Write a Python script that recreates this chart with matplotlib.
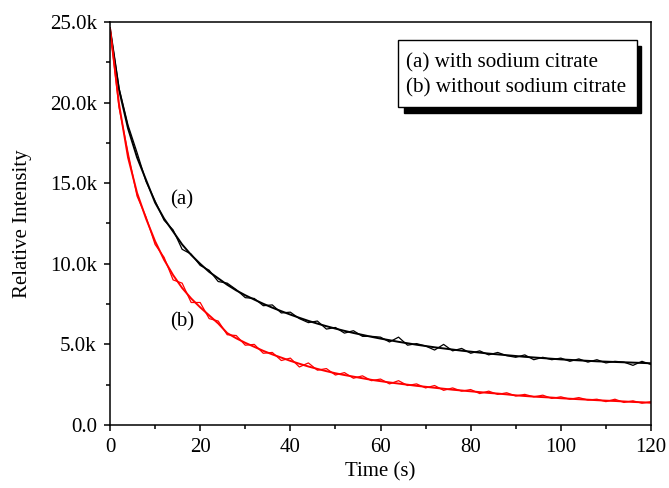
import matplotlib
matplotlib.use("Agg")
import matplotlib.pyplot as plt
import matplotlib.patches as patches
from matplotlib.ticker import FuncFormatter, MultipleLocator
import numpy as np

# time axis (s), sampled every 2 s
time_s = np.arange(0, 121, 2)

# measured intensity, with sodium citrate (k counts)
raw_a = [24.6, 20.9, 18.6, 16.9, 15.1, 13.9, 12.7, 12.1, 10.9, 10.6,
         9.9, 9.6, 8.9, 8.8, 8.4, 7.9, 7.85, 7.4, 7.45, 6.95,
         7.0, 6.6, 6.35, 6.45, 5.95, 6.05, 5.7, 5.85, 5.5, 5.5,
         5.45, 5.15, 5.45, 4.95, 5.05, 4.9, 4.65, 5.0, 4.6, 4.75,
         4.45, 4.6, 4.35, 4.5, 4.3, 4.2, 4.35, 4.05, 4.2, 4.05,
         4.15, 3.95, 4.1, 3.9, 4.05, 3.85, 3.95, 3.9, 3.7, 3.95,
         3.75]
# fitted decay, with sodium citrate
fit_a = [24.6, 20.8, 18.4, 16.6, 15.2, 13.8, 12.8, 12.0, 11.2, 10.55,
         10.0, 9.5, 9.1, 8.7, 8.35, 8.05, 7.78, 7.52, 7.28, 7.06,
         6.85, 6.65, 6.46, 6.29, 6.13, 5.98, 5.84, 5.71, 5.59, 5.47,
         5.36, 5.26, 5.16, 5.07, 4.98, 4.90, 4.82, 4.75, 4.68, 4.61,
         4.55, 4.49, 4.43, 4.38, 4.33, 4.28, 4.23, 4.19, 4.15, 4.11,
         4.07, 4.04, 4.01, 3.98, 3.95, 3.93, 3.91, 3.89, 3.87, 3.85,
         3.83]

# measured intensity, without sodium citrate (k counts)
raw_b = [24.6, 19.7, 16.9, 14.2, 12.9, 11.2, 10.4, 9.0, 8.8, 7.6,
         7.6, 6.6, 6.45, 5.6, 5.55, 4.95, 5.0, 4.45, 4.5, 4.0,
         4.15, 3.6, 3.85, 3.4, 3.5, 3.1, 3.25, 2.9, 3.05, 2.75,
         2.85, 2.55, 2.75, 2.45, 2.55, 2.3, 2.45, 2.15, 2.3, 2.1,
         2.2, 1.95, 2.1, 1.9, 2.0, 1.8, 1.9, 1.75, 1.85, 1.65,
         1.75, 1.6, 1.7, 1.55, 1.6, 1.45, 1.6, 1.4, 1.5, 1.35,
         1.45]
# fitted decay, without sodium citrate
fit_b = [24.6, 19.9, 16.6, 14.4, 12.8, 11.4, 10.25, 9.3, 8.5, 7.85,
         7.3, 6.8, 6.3, 5.7, 5.38, 5.1, 4.85, 4.6, 4.38, 4.18,
         3.98, 3.8, 3.63, 3.48, 3.34, 3.21, 3.1, 3.0, 2.9, 2.8,
         2.72, 2.64, 2.57, 2.5, 2.43, 2.37, 2.31, 2.25, 2.19, 2.14,
         2.09, 2.04, 1.99, 1.95, 1.9, 1.84, 1.8, 1.76, 1.73, 1.7,
         1.66, 1.63, 1.6, 1.57, 1.54, 1.51, 1.49, 1.46, 1.43, 1.41,
         1.38]

legend_lines = ["(a) with sodium citrate", "(b) without sodium citrate"]

plt.rcParams['font.family'] = ['Liberation Serif', 'DejaVu Serif']

W, H = 669, 488
fig = plt.figure(figsize=(W / 100, H / 100), dpi=100)
ax = fig.add_axes([110 / W, 1 - 425 / H, 541 / W, 403 / H])

k = 1000.0
ax.plot(time_s, np.array(raw_a) * k, color='black', lw=0.9)
ax.plot(time_s, np.array(fit_a) * k, color='black', lw=1.4)
ax.plot(time_s, np.array(raw_b) * k, color='red', lw=0.9)
ax.plot(time_s, np.array(fit_b) * k, color='red', lw=1.4)

ax.set_xlim(0, 120)
ax.set_ylim(0, 25000)
ax.xaxis.set_major_locator(MultipleLocator(20))
ax.xaxis.set_minor_locator(MultipleLocator(10))
ax.yaxis.set_major_locator(MultipleLocator(5000))
ax.yaxis.set_minor_locator(MultipleLocator(2500))


def kfmt(v, pos):
    if v == 0:
        return "0.0"
    return "%.1fk" % (v / 1000)


ax.yaxis.set_major_formatter(FuncFormatter(kfmt))
ax.tick_params(which='both', direction='out', top=False, right=False,
               labelsize=15, width=1.1)
ax.tick_params(which='major', length=4.5, pad=5)
ax.tick_params(which='minor', length=3)
for s in ax.spines.values():
    s.set_linewidth(1.1)

ax.set_xlabel("Time (s)", fontsize=15)
ax.set_ylabel("Relative Intensity", fontsize=15)
ax.xaxis.set_label_coords(0.5, -0.092)
ax.yaxis.set_label_coords(-0.145, 0.5)

ax.text(16, 13960, "(a)", fontsize=15, ha='center', va='center')
ax.text(16, 6390, "(b)", fontsize=15, ha='center', va='center')

# legend box with a solid drop shadow
shadow = patches.Rectangle((404 / W, 1 - 113 / H), 237 / W, 67 / H,
                           transform=fig.transFigure, facecolor='black',
                           edgecolor='black', zorder=5)
box = patches.Rectangle((398 / W, 1 - 107 / H), 239 / W, 67 / H,
                        transform=fig.transFigure, facecolor='white',
                        edgecolor='black', lw=1.0, zorder=6)
fig.patches.extend([shadow, box])
fig.text(406 / W, 1 - 63 / H, legend_lines[0], fontsize=15.2, va='center', zorder=7)
fig.text(406 / W, 1 - 88 / H, legend_lines[1], fontsize=15.2, va='center', zorder=7)

fig.savefig("out.png", dpi=100)
